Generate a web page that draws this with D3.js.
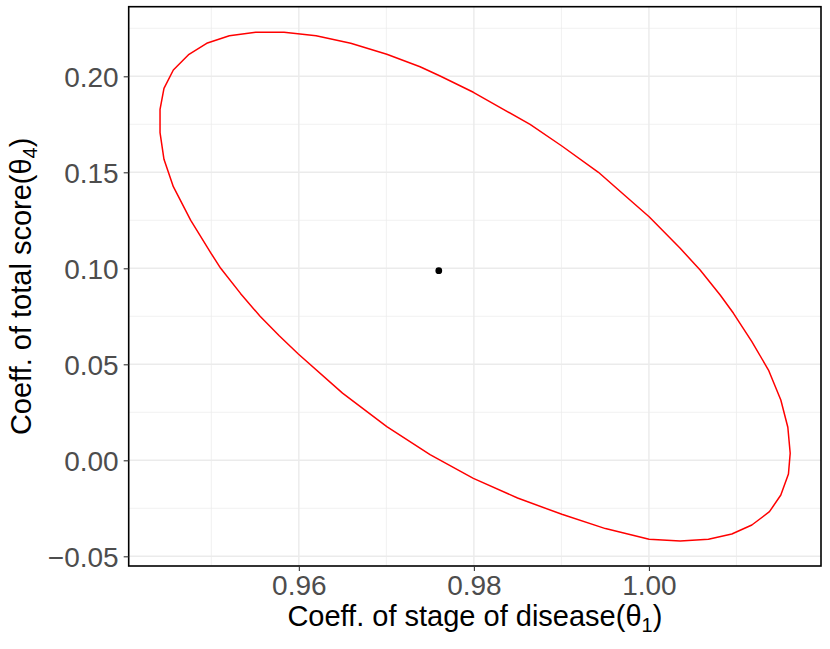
<!DOCTYPE html>
<html>
<head>
<meta charset="utf-8">
<script src="https://cdn.jsdelivr.net/npm/d3@7"></script>
<style>
  html, body { margin: 0; padding: 0; background: #fff; }
  svg { display: block; font-family: "Liberation Sans", Arial, sans-serif; }
</style>
</head>
<body>
<svg id="chart" width="830" height="649"></svg>
<script>
// ---- data ----
const ellipseX = [0.94414, 0.94414, 0.94459, 0.94566, 0.94745, 0.94947, 0.95206, 0.95507, 0.95831, 0.96197,
                  0.96593, 0.97005, 0.97385, 0.97614, 0.97994, 0.98337, 0.98642, 0.99005, 0.99423, 0.99712,
                  1.00002, 1.00357, 1.00585, 1.00814, 1.00966, 1.01176, 1.01366, 1.01507, 1.01587, 1.01614,
                  1.01594, 1.01507, 1.01377, 1.01176, 1.00947, 1.00680, 1.00357, 1.00002, 0.99503, 0.99005,
                  0.98499, 0.97994, 0.97499, 0.97005, 0.96499, 0.95994, 0.95776, 0.95557, 0.95333, 0.95107,
                  0.94997, 0.94765, 0.94566, 0.94459];
const ellipseY = [0.17063, 0.18281, 0.19375, 0.20328, 0.21146, 0.21719, 0.22115, 0.22292, 0.22292, 0.22115,
                  0.21719, 0.21146, 0.20500, 0.20016, 0.19167, 0.18281, 0.17500, 0.16370, 0.15000, 0.13844,
                  0.12688, 0.11042, 0.09911, 0.08609, 0.07656, 0.06177, 0.04703, 0.03141, 0.01719, 0.00365,
                  -0.00714, -0.01807, -0.02677, -0.03370, -0.03839, -0.04115, -0.04203, -0.04115, -0.03557, -0.02813,
                  -0.01964, -0.00938, 0.00292, 0.01750, 0.03500, 0.05536, 0.06484, 0.07500, 0.08693, 0.10000,
                  0.10781, 0.12500, 0.14250, 0.15677];
const centerX = [0.97599];
const centerY = [0.09875];

const xTicks = [0.96, 0.98, 1.00];
const xMinor = [0.95, 0.97, 0.99, 1.01];
const yTicks = [-0.05, 0.00, 0.05, 0.10, 0.15, 0.20];
const yMinor = [-0.025, 0.025, 0.075, 0.125, 0.175, 0.225];

const xDomain = [0.94056, 1.01966];
const yDomain = [-0.05505, 0.23625];

// ---- layout ----
const panel = { left: 128.7, top: 6.7, right: 821, bottom: 566 };
const svg = d3.select("#chart");

const x = d3.scaleLinear().domain(xDomain).range([panel.left, panel.right]);
const y = d3.scaleLinear().domain(yDomain).range([panel.bottom, panel.top]);

// grid
const grid = svg.append("g");
grid.selectAll("line.xmin").data(xMinor).join("line")
  .attr("x1", d => x(d)).attr("x2", d => x(d))
  .attr("y1", panel.top).attr("y2", panel.bottom)
  .attr("stroke", "#ebebeb").attr("stroke-width", 0.7);
grid.selectAll("line.ymin").data(yMinor).join("line")
  .attr("y1", d => y(d)).attr("y2", d => y(d))
  .attr("x1", panel.left).attr("x2", panel.right)
  .attr("stroke", "#ebebeb").attr("stroke-width", 0.7);
grid.selectAll("line.xmaj").data(xTicks).join("line")
  .attr("x1", d => x(d)).attr("x2", d => x(d))
  .attr("y1", panel.top).attr("y2", panel.bottom)
  .attr("stroke", "#ebebeb").attr("stroke-width", 1.4);
grid.selectAll("line.ymaj").data(yTicks).join("line")
  .attr("y1", d => y(d)).attr("y2", d => y(d))
  .attr("x1", panel.left).attr("x2", panel.right)
  .attr("stroke", "#ebebeb").attr("stroke-width", 1.4);

// ellipse
const pts = ellipseX.map((d, i) => [d, ellipseY[i]]);
svg.append("path")
  .datum(pts)
  .attr("d", d3.line().x(d => x(d[0])).y(d => y(d[1])).curve(d3.curveLinearClosed))
  .attr("fill", "none")
  .attr("stroke", "#ff0000")
  .attr("stroke-width", 1.5)
  .attr("stroke-linejoin", "round");

// centre point
svg.selectAll("circle.pt").data(centerX).join("circle")
  .attr("cx", d => x(d)).attr("cy", (d, i) => y(centerY[i]))
  .attr("r", 3.4).attr("fill", "#000");

// panel border
svg.append("rect")
  .attr("x", panel.left).attr("y", panel.top)
  .attr("width", panel.right - panel.left).attr("height", panel.bottom - panel.top)
  .attr("fill", "none").attr("stroke", "#000").attr("stroke-width", 1.6);

// axes
const fmt = d3.format(".2f");
const xAxis = svg.append("g")
  .attr("transform", `translate(0,${panel.bottom})`)
  .call(d3.axisBottom(x).tickValues(xTicks).tickSize(5).tickPadding(4).tickFormat(fmt));
const yAxis = svg.append("g")
  .attr("transform", `translate(${panel.left},0)`)
  .call(d3.axisLeft(y).tickValues(yTicks).tickSize(5).tickPadding(5)
    .tickFormat(d => fmt(d).replace("-", "\u2212")));
[xAxis, yAxis].forEach(a => {
  a.select(".domain").remove();
  a.selectAll(".tick line").attr("stroke", "#333").attr("stroke-width", 1.1);
  a.selectAll(".tick text")
    .attr("fill", "#4d4d4d")
    .style("font-size", "28px")
    .style("font-family", "'Liberation Sans', Arial, sans-serif");
});
xAxis.selectAll(".tick text").attr("dy", "0.71em");
yAxis.selectAll(".tick text").attr("dy", "0.36em");

// axis titles
const xTitle = svg.append("text")
  .attr("x", (panel.left + panel.right) / 2).attr("y", 626)
  .attr("text-anchor", "middle").attr("fill", "#000")
  .style("font-size", "29px");
xTitle.append("tspan").text("Coeff. of stage of disease(\u03b8");
xTitle.append("tspan").attr("dy", 6).style("font-size", "20px").text("1");
xTitle.append("tspan").attr("dy", -6).text(")");

const yTitle = svg.append("text")
  .attr("transform", `translate(31,${(panel.top + panel.bottom) / 2}) rotate(-90)`)
  .attr("text-anchor", "middle").attr("fill", "#000")
  .style("font-size", "29px");
yTitle.append("tspan").text("Coeff. of total score(\u03b8");
yTitle.append("tspan").attr("dy", 6).style("font-size", "20px").text("4");
yTitle.append("tspan").attr("dy", -6).text(")");
</script>
</body>
</html>
